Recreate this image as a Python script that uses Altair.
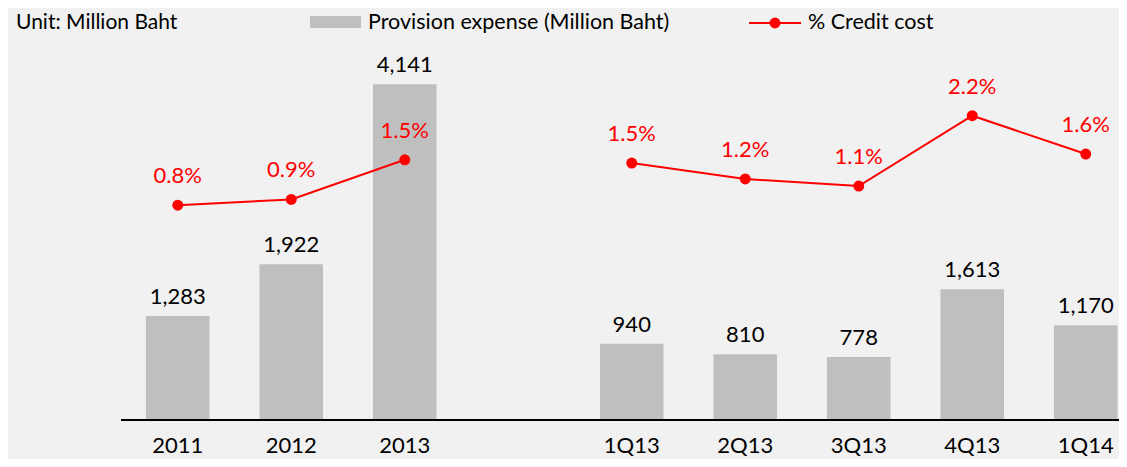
import altair as alt
import pandas as pd

# ---- data ----
periods_annual = ["2011", "2012", "2013"]
provision_annual = [1283, 1922, 4141]
credit_annual = [0.80, 0.89, 1.51]

periods_quarter = ["1Q13", "2Q13", "3Q13", "4Q13", "1Q14"]
provision_quarter = [940, 810, 778, 1613, 1170]
credit_quarter = [1.46, 1.21, 1.10, 2.20, 1.60]

spacer = " "
x_domain = periods_annual + [spacer] + periods_quarter

df = pd.DataFrame({
    "period": periods_annual + periods_quarter,
    "provision": provision_annual + provision_quarter,
    "credit": credit_annual + credit_quarter,
    "group": ["Annual"] * len(periods_annual) + ["Quarterly"] * len(periods_quarter),
})
df["credit_label"] = df["credit"].map(lambda v: f"{v:.1f}%")

FONT = "Lato"
RED = "#ff0000"
BAR = "#bfbfbf"
W, H = 998, 380

x_enc = alt.X(
    "period:N",
    sort=x_domain,
    scale=alt.Scale(domain=x_domain, range=[0, 1021.5], paddingInner=0.44, paddingOuter=0.22),
    axis=alt.Axis(title=None, labelFont=FONT, labelFontSize=22, labelColor="#000000",
                  labelAngle=0, labelPadding=32, labelBaseline="alphabetic",
                  ticks=False, tickSize=0, domain=False, grid=False),
)
y_bar = alt.Y("provision:Q", scale=alt.Scale(domain=[0, 4687]), axis=None)
y_line = alt.Y("credit:Q", scale=alt.Scale(domain=[-2.562, 3.385]), axis=None)

base = alt.Chart(df)

bars = base.mark_bar(color=BAR).encode(x=x_enc, y=y_bar)
bar_text = base.mark_text(dy=-12, baseline="alphabetic", font=FONT, fontSize=22,
                          color="#000000").encode(
    x=x_enc, y=y_bar, text=alt.Text("provision:Q", format=","))

line = base.mark_line(color=RED, strokeWidth=2).encode(x=x_enc, y=y_line, detail="group:N")
points = base.mark_circle(color=RED, size=120, opacity=1).encode(x=x_enc, y=y_line)
line_text = base.mark_text(dy=-22, baseline="alphabetic", font=FONT, fontSize=22,
                           color=RED).encode(x=x_enc, y=y_line, text="credit_label:N")

one = alt.Chart(pd.DataFrame({"k": [0]}))
axis_rule = one.mark_rule(color="#000000", strokeWidth=2).encode(
    x=alt.value(0), x2=alt.value(W), y=alt.value(H))

unit_text = one.mark_text(text="Unit: Million Baht", align="left", baseline="alphabetic",
                          font=FONT, fontSize=21, color="#000000").encode(
    x=alt.value(-105), y=alt.value(-11))
leg_rect = one.mark_rect(color=BAR).encode(
    x=alt.value(189), x2=alt.value(240), y=alt.value(-24), y2=alt.value(-12))
leg_text1 = one.mark_text(text="Provision expense (Million Baht)", align="left",
                          baseline="alphabetic", font=FONT, fontSize=21.5, color="#000000").encode(
    x=alt.value(247), y=alt.value(-11))
leg_line = one.mark_rule(color=RED, strokeWidth=2).encode(
    x=alt.value(628), x2=alt.value(680), y=alt.value(-17))
leg_dot = one.mark_circle(color=RED, size=120, opacity=1).encode(
    x=alt.value(654), y=alt.value(-17))
leg_text2 = one.mark_text(text="% Credit cost", align="left", baseline="alphabetic",
                          font=FONT, fontSize=21.5, color="#000000").encode(
    x=alt.value(687), y=alt.value(-11))

chart = alt.layer(
    alt.layer(bars, bar_text),
    alt.layer(line, points, line_text),
    axis_rule, unit_text, leg_rect, leg_text1, leg_line, leg_dot, leg_text2,
).resolve_scale(y="independent").properties(
    width=W, height=H,
    background="#f1f1f1",
    padding={"left": 113, "top": 32, "right": 0, "bottom": 39},
    autosize=alt.AutoSizeParams(type="none"),
).configure_view(stroke=None)

chart.save("out.html", embed_options={"renderer": "svg", "actions": False})
